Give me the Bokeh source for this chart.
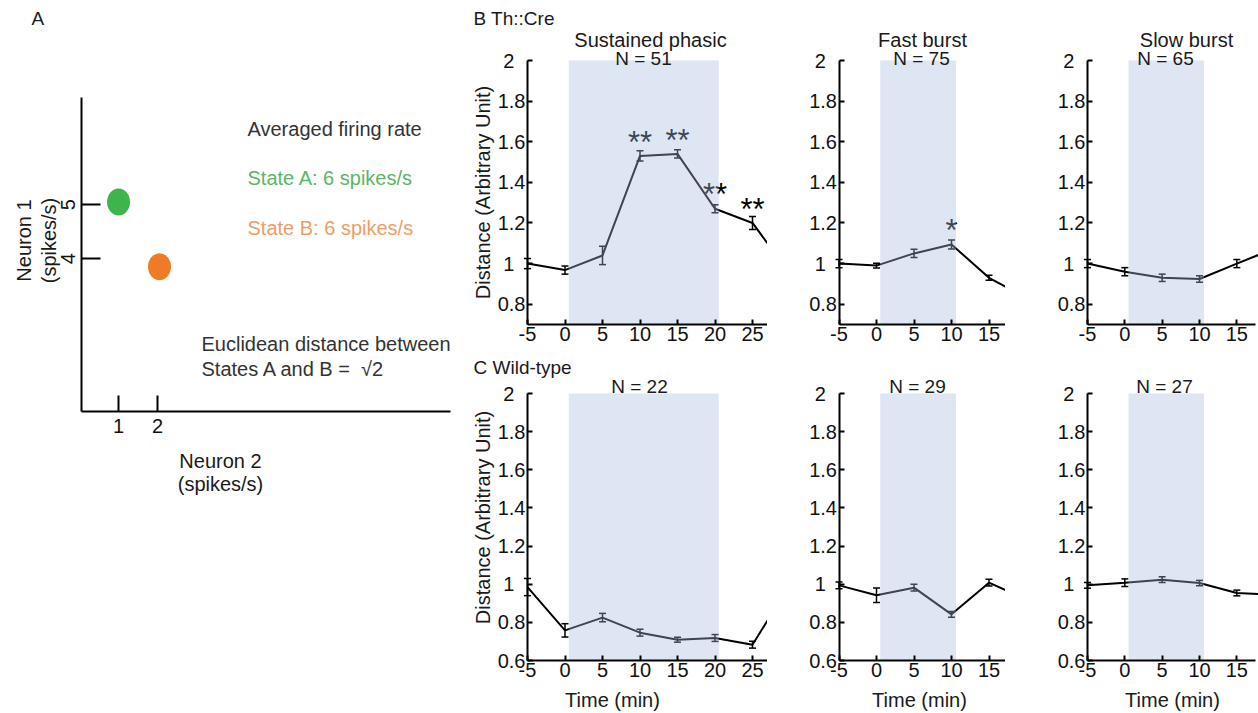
import math

from bokeh.core.properties import value
from bokeh.embed import file_html
from bokeh.layouts import column, row
from bokeh.models import (ColumnDataSource, CustomJSTickFormatter, FixedTicker,
                          Label, TeeHead, Whisker)
from bokeh.plotting import figure
from bokeh.resources import INLINE

FONT = "Liberation Sans"

# ---------------- Panel A: two-neuron state space ----------------
state_names = ["State A", "State B"]
neuron2_rate = [1.0, 2.05]     # x, spikes/s
neuron1_rate = [5.05, 3.85]    # y, spikes/s
state_colors = ["#3db54a", "#f07b27"]
state_text_colors = ["#5db565", "#ee9d66"]
a_xticks = [1, 2]
a_yticks = [4, 5]

# ---------------- Panels B / C: distance over time ----------------
t_long = [-5, 0, 5, 10, 15, 20, 25, 30]
t_short = [-5, 0, 5, 10, 15, 20]
xticks_long = [-5, 0, 5, 10, 15, 20, 25]
xticks_short = [-5, 0, 5, 10, 15]

# B Th::Cre
b_sust = [1.00, 0.968, 1.04, 1.53, 1.54, 1.27, 1.20, 0.95]
b_sust_err = [0.025, 0.02, 0.045, 0.025, 0.02, 0.02, 0.032]
b_fast = [1.00, 0.99, 1.05, 1.094, 0.93, 0.83]
b_fast_err = [0.02, 0.012, 0.02, 0.022, 0.012]
b_slow = [1.00, 0.96, 0.93, 0.924, 1.00, 1.074]
b_slow_err = [0.02, 0.02, 0.018, 0.016, 0.02]

# C Wild-type
c_sust = [0.985, 0.758, 0.825, 0.746, 0.709, 0.718, 0.683, 1.0]
c_sust_err = [0.045, 0.035, 0.022, 0.018, 0.013, 0.018, 0.018]
c_fast = [0.994, 0.942, 0.982, 0.842, 1.008, 0.92]
c_fast_err = [0.018, 0.038, 0.018, 0.015, 0.018]
c_slow = [0.994, 1.008, 1.024, 1.006, 0.954, 0.945]
c_slow_err = [0.015, 0.02, 0.015, 0.014, 0.015]

# significance marks (time, mark)
b_sust_sig_t = [10, 15, 20, 25]
b_sust_sig = ["**", "**", "**", "**"]
b_fast_sig_t = [10]
b_fast_sig = ["*"]

stim_sust = (0.5, 20.5)
stim_burst = (0.5, 10.6)

panel_titles = ["Sustained phasic", "Fast burst", "Slow burst"]
b_counts = ["N = 51", "N = 75", "N = 65"]
c_counts = ["N = 22", "N = 29", "N = 27"]

SHADE = "#a2bbdc"

# whole numbers get a trailing figure space so they sit centred under "1.8"-style labels
Y_FORMAT = """
const v = Math.round(tick*10)/10;
return Number.isInteger(v) ? v.toString() + "\\u2007" : v.toString();
"""


def make_fig(fig_box, axis_box, xlim, ylim):
    """Figure whose frame fills the canvas; axes are pinned at the data origin
    so that every annotation stays inside the drawable frame."""
    fl, ft, fw, fh = fig_box
    al, ar, at, ab = axis_box
    x0, x1 = xlim
    y0, y1 = ylim
    sx = (ar - al) / (x1 - x0)
    sy = (ab - at) / (y1 - y0)
    xr = (x0 - (al - fl) / sx, x1 + (fl + fw - ar) / sx)
    yr = (y0 - (ft + fh - ab) / sy, y1 + (at - ft) / sy)
    p = figure(width=fw, height=fh, x_range=xr, y_range=yr,
               output_backend="svg", toolbar_location=None,
               min_border_left=0, min_border_right=0,
               min_border_top=0, min_border_bottom=0)
    p.outline_line_color = None
    p.grid.visible = False
    p.background_fill_color = "white"
    p.border_fill_color = "white"
    for ax in (p.xaxis[0], p.yaxis[0]):
        ax.axis_line_width = 2
        ax.axis_line_color = "black"
        ax.major_tick_line_width = 2
        ax.major_tick_line_color = "black"
        ax.major_tick_in = 5
        ax.major_tick_out = 0
        ax.minor_tick_line_color = None
        ax.major_label_text_font = FONT
        ax.major_label_text_font_size = "20px"
        ax.major_label_text_color = "#111111"
        ax.major_label_standoff = 2
    p.xaxis.fixed_location = y0
    p.xaxis.bounds = (x0, x1)
    p.yaxis.fixed_location = x0
    p.yaxis.bounds = (y0, y1)

    def pt(px, py):
        return x0 + (px - al) / sx, y1 - (py - at) / sy

    return p, pt


def lbl(p, xy, text, size="20px", color="#1a1a1a", align="center", angle=0.0):
    p.add_layout(Label(x=xy[0], y=xy[1], text=text,
                       text_font=FONT, text_font_size=size, text_color=color,
                       text_align=align, text_baseline="middle", angle=angle))


def time_panel(fig_box, axis_box, t, y, err, x_end, y_start, shade, sig_t=None, sig=None):
    p, pt = make_fig(fig_box, axis_box, (-5, x_end), (y_start, 2.0))
    xt = xticks_long if x_end > 20 else xticks_short
    p.xaxis.ticker = FixedTicker(ticks=xt)
    p.xaxis.formatter = CustomJSTickFormatter(code="return tick.toString();")
    first = 0.6 if y_start < 0.65 else 0.8
    yt = [round(first + 0.2 * i, 1) for i in range(8) if first + 0.2 * i <= 2.0001]
    p.yaxis.ticker = FixedTicker(ticks=yt)
    p.yaxis.formatter = CustomJSTickFormatter(code=Y_FORMAT)

    n = len(err)
    src = ColumnDataSource(dict(t=t[:n], lo=[a - e for a, e in zip(y[:n], err)],
                                hi=[a + e for a, e in zip(y[:n], err)]))
    head = dict(size=7, line_width=1.5, line_color="black")
    p.add_layout(Whisker(base="t", lower="lo", upper="hi", source=src,
                         line_width=1.5, line_color="black", level="underlay",
                         upper_head=TeeHead(**head), lower_head=TeeHead(**head)))
    p.line(t, y, line_color="black", line_width=2)

    if sig_t:
        ys = [y[t.index(s)] + 0.068 for s in sig_t]
        p.text(x=sig_t, y=ys, text=sig, text_font=value(FONT), text_font_size="31px",
               text_align="center", text_baseline="middle", text_color="black")

    # stimulation window, laid over the trace so it tints what lies beneath
    p.quad(left=[shade[0]], right=[shade[1]], bottom=[y_start], top=[2.0],
           fill_color=SHADE, fill_alpha=0.37, line_color=None)
    return p, pt


# ---------------- panel A ----------------
pa, apt = make_fig((0, 0, 460, 713), (81, 450, 97, 411), (0.05, 9.51), (1.17, 6.985))
pa.xaxis.ticker = FixedTicker(ticks=a_xticks)
pa.yaxis.ticker = FixedTicker(ticks=a_yticks)
pa.xaxis.major_tick_in = 16
pa.yaxis.major_tick_in = 19
pa.xaxis.major_label_standoff = 7
pa.yaxis.major_label_standoff = 6
pa.yaxis.major_label_orientation = "parallel"
pa.ellipse(x=neuron2_rate, y=neuron1_rate, width=23, height=27,
           width_units="screen", height_units="screen",
           fill_color=state_colors, line_color=None)

lbl(pa, apt(31, 18), "A", size="19px", align="left")
lbl(pa, apt(247, 128), "Averaged firing rate", color="#333333", align="left")
for i, name in enumerate(state_names):
    lbl(pa, apt(247, 177 + 50 * i), f"{name}: 6 spikes/s", color=state_text_colors[i],
        align="left")
lbl(pa, apt(201, 343), "Euclidean distance between", color="#333333", align="left")
lbl(pa, apt(201, 368), "States A and B =\u00a0 \u221a2", color="#333333", align="left")
lbl(pa, apt(23, 240), "Neuron 1", angle=math.pi / 2)
lbl(pa, apt(48, 240), "(spikes/s)", angle=math.pi / 2)
lbl(pa, apt(220, 460), "Neuron 2")
lbl(pa, apt(220, 483), "(spikes/s)")

# ---------------- panels B and C ----------------
TOP = (0, 354, 60, 324)      # figure top, height, axis top, axis bottom
BOT = (354, 359, 393, 660)
COLS = [(460, 307, 527, 767), (767, 238, 838.5, 1005), (1005, 253, 1087, 1255)]


def boxes(c, r):
    fl, fw, al, ar = COLS[c]
    ft, fh, at, ab = r
    return (fl, ft, fw, fh), (al, ar, at, ab)


b1, b1pt = time_panel(*boxes(0, TOP), t_long, b_sust, b_sust_err, 27, 0.7, stim_sust,
                      b_sust_sig_t, b_sust_sig)
b2, b2pt = time_panel(*boxes(1, TOP), t_short, b_fast, b_fast_err, 17.2, 0.7, stim_burst,
                      b_fast_sig_t, b_fast_sig)
b3, b3pt = time_panel(*boxes(2, TOP), t_short, b_slow, b_slow_err, 17.5, 0.7, stim_burst)
c1, c1pt = time_panel(*boxes(0, BOT), t_long, c_sust, c_sust_err, 27, 0.6, stim_sust)
c2, c2pt = time_panel(*boxes(1, BOT), t_short, c_fast, c_fast_err, 17.2, 0.6, stim_burst)
c3, c3pt = time_panel(*boxes(2, BOT), t_short, c_slow, c_slow_err, 17.5, 0.6, stim_burst)

title_px = [650, 922, 1186]
b_count_px = [643, 921, 1165]
c_count_px = [639, 917, 1164]
time_px = [612, 919, 1172]
for i, ((pb, bpt), (pc, cpt)) in enumerate(zip(((b1, b1pt), (b2, b2pt), (b3, b3pt)),
                                               ((c1, c1pt), (c2, c2pt), (c3, c3pt)))):
    lbl(pb, bpt(title_px[i], 39), panel_titles[i])
    lbl(pb, bpt(b_count_px[i], 58), b_counts[i], size="19px")
    lbl(pc, cpt(c_count_px[i], 386), c_counts[i], size="19px")
    lbl(pc, cpt(time_px[i], 699), "Time (min)")

lbl(b1, b1pt(473, 18), "B Th::Cre", size="19px", align="left")
lbl(c1, c1pt(473, 367), "C Wild-type", size="19px", align="left")
lbl(b1, b1pt(482, 192), "Distance (Arbitrary Unit)", angle=math.pi / 2)
lbl(c1, c1pt(482, 517), "Distance (Arbitrary Unit)", angle=math.pi / 2)

layout = row(pa, column(row(b1, b2, b3, spacing=0), row(c1, c2, c3, spacing=0), spacing=0),
             spacing=0)

open("out.html", "w").write(file_html(layout, INLINE))
